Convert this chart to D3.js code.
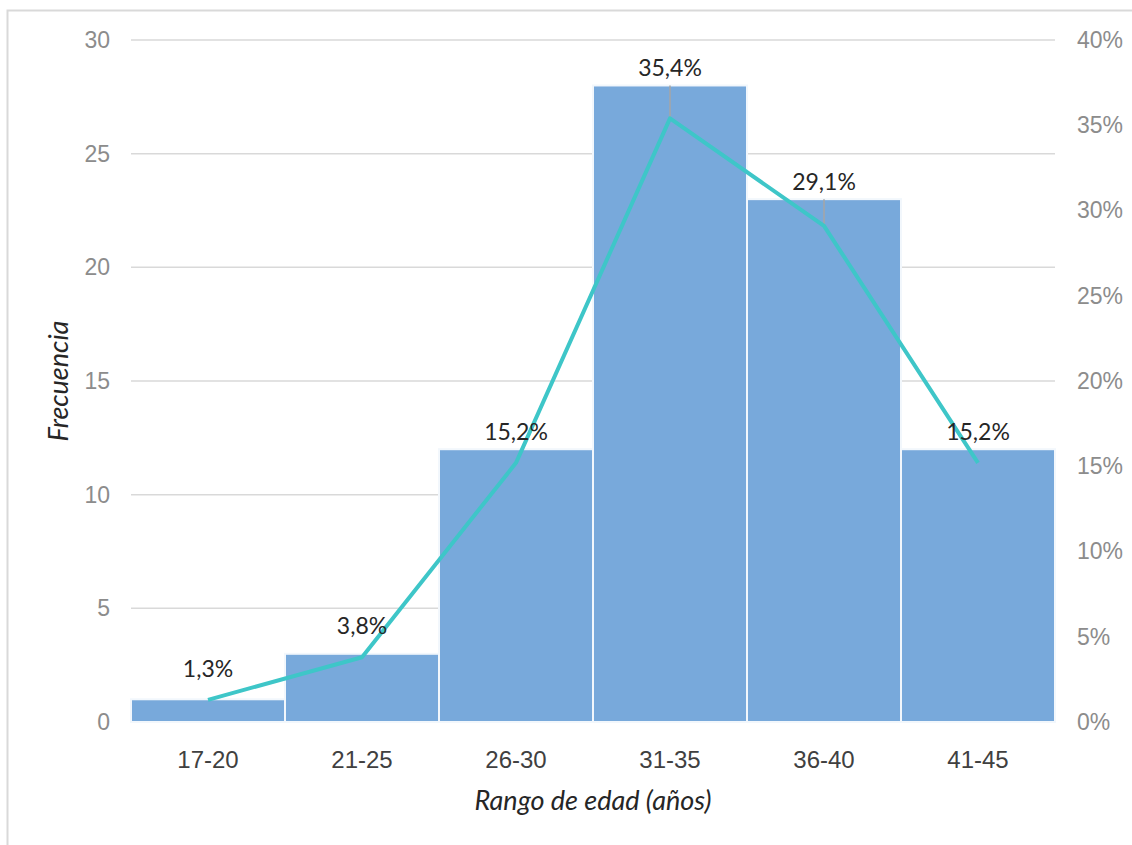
<!DOCTYPE html>
<html>
<head>
<meta charset="utf-8">
<script src="https://cdn.jsdelivr.net/npm/d3@7"></script>
<style>
  body { margin: 0; background: #fff; }
  svg { display: block; font-family: Lato, "Open Sans", sans-serif; }
</style>
</head>
<body>
<div id="chart"></div>
<script>
// data ---------------------------------------------------------------
const categories = ["17-20", "21-25", "26-30", "31-35", "36-40", "41-45"];
const frequency = [1, 3, 12, 28, 23, 12];
const percent = [1.3, 3.8, 15.2, 35.4, 29.1, 15.2];
const leftTicks = [0, 5, 10, 15, 20, 25, 30];
const rightTicks = [0, 5, 10, 15, 20, 25, 30, 35, 40];

const width = 1132, height = 845;
const plot = {left: 131, right: 1055, top: 40, bottom: 722};

const rows = categories.map((c, i) => ({cat: c, freq: frequency[i], pct: percent[i]}));

const svg = d3.select("#chart").append("svg")
    .attr("width", width)
    .attr("height", height);

// outer frame (cut off by the window on the right / bottom)
svg.append("rect")
    .attr("x", 7.5).attr("y", 10.5)
    .attr("width", 1200).attr("height", 900)
    .attr("fill", "none")
    .attr("stroke", "#d9d9d9")
    .attr("stroke-width", 2);

const x = d3.scaleBand()
    .domain(categories)
    .range([plot.left, plot.right])
    .padding(0);
const cx = d => x(d.cat) + x.bandwidth() / 2;

const yLeft = d3.scaleLinear().domain([0, 30]).range([plot.bottom, plot.top]);
const yRight = d3.scaleLinear().domain([0, 40]).range([plot.bottom, plot.top]);

// gridlines
svg.append("g")
    .selectAll("line")
    .data(leftTicks)
    .join("line")
    .attr("x1", plot.left).attr("x2", plot.right)
    .attr("y1", d => yLeft(d)).attr("y2", d => yLeft(d))
    .attr("stroke", "#d9d9d9")
    .attr("stroke-width", 1.5);

// left axis
const leftAxis = svg.append("g")
    .attr("transform", `translate(${plot.left},0)`)
    .call(d3.axisLeft(yLeft).tickValues(leftTicks).tickSize(0).tickPadding(21));
leftAxis.select(".domain").remove();
leftAxis.selectAll("text")
    .attr("fill", "#8c8c8c")
    .style("font-size", "23px");

// right axis
const rightAxis = svg.append("g")
    .attr("transform", `translate(${plot.right},0)`)
    .call(d3.axisRight(yRight).tickValues(rightTicks).tickSize(0).tickPadding(22)
        .tickFormat(d => d + "%"));
rightAxis.select(".domain").remove();
rightAxis.selectAll("text")
    .attr("fill", "#8c8c8c")
    .style("font-size", "23px");

// bars
svg.append("g")
    .selectAll("rect")
    .data(rows)
    .join("rect")
    .attr("x", d => x(d.cat))
    .attr("y", d => yLeft(d.freq))
    .attr("width", x.bandwidth())
    .attr("height", d => yLeft(0) - yLeft(d.freq))
    .attr("fill", "#78a9db")
    .attr("stroke", "#f2f7fc")
    .attr("stroke-width", 2);

// bottom axis labels
const bottomAxis = svg.append("g")
    .attr("transform", `translate(0,${plot.bottom})`)
    .call(d3.axisBottom(x).tickSize(0).tickPadding(29));
bottomAxis.select(".domain").remove();
bottomAxis.selectAll("text")
    .attr("fill", "#404040")
    .style("font-size", "24px");

// leader lines (bar top down to the point when the point sits inside the bar)
svg.append("g")
    .selectAll("line")
    .data(rows.filter(d => yRight(d.pct) - yLeft(d.freq) > 15))
    .join("line")
    .attr("x1", cx)
    .attr("x2", cx)
    .attr("y1", d => yLeft(d.freq))
    .attr("y2", d => yRight(d.pct))
    .attr("stroke", "#a6a6a6")
    .attr("stroke-width", 1.5);

// percentage line
const line = d3.line()
    .x(cx)
    .y(d => yRight(d.pct));

svg.append("path")
    .datum(rows)
    .attr("d", line)
    .attr("fill", "none")
    .attr("stroke", "#3ec6c8")
    .attr("stroke-width", 4)
    .attr("stroke-linejoin", "round");

// data labels
svg.append("g")
    .selectAll("text")
    .data(rows)
    .join("text")
    .attr("x", cx)
    .attr("y", d => Math.min(yRight(d.pct) - 23, yLeft(d.freq) - 9))
    .attr("text-anchor", "middle")
    .attr("fill", "#262626")
    .style("font-size", "23px")
    .text(d => d.pct.toFixed(1).replace(".", ",") + "%");

// axis titles
svg.append("text")
    .attr("transform", `translate(68,${(plot.top + plot.bottom) / 2}) rotate(-90)`)
    .attr("text-anchor", "middle")
    .attr("fill", "#262626")
    .style("font-size", "27px")
    .style("font-style", "italic")
    .text("Frecuencia");

svg.append("text")
    .attr("x", (plot.left + plot.right) / 2)
    .attr("y", 810)
    .attr("text-anchor", "middle")
    .attr("fill", "#262626")
    .style("font-size", "27px")
    .style("font-style", "italic")
    .text("Rango de edad (años)");
</script>
</body>
</html>
